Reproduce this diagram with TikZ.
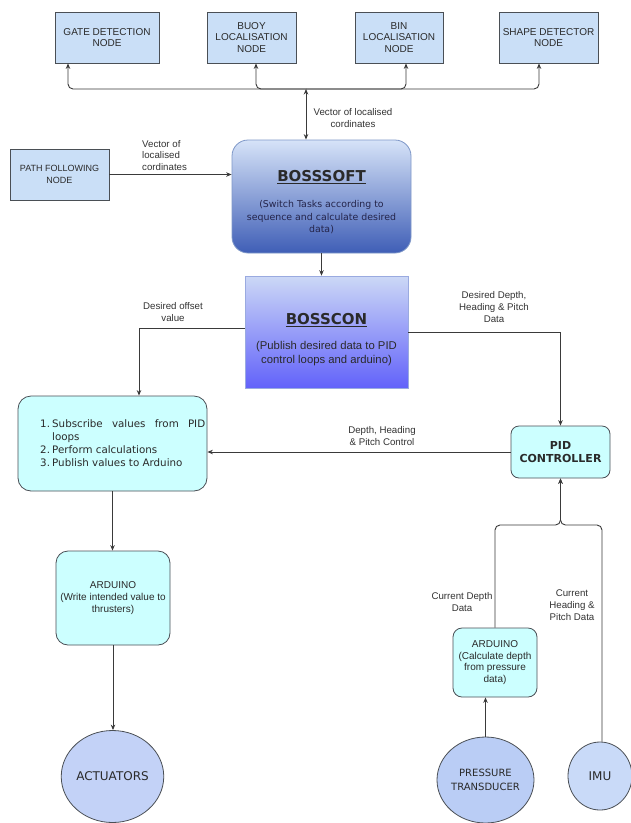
\documentclass[tikz,border=0pt]{standalone}
\usepackage{fontspec}
\setmainfont{Liberation Sans}
\newfontfamily\dvs{DejaVu Sans}
\usetikzlibrary{arrows.meta,shapes.geometric}
\definecolor{lncol}{HTML}{3A3A3A}
\definecolor{bordcol}{HTML}{4A4F55}
\definecolor{topfill}{HTML}{CADFF7}
\definecolor{cyanfill}{HTML}{CCFFFF}
\definecolor{txtcol}{HTML}{2A2A2A}
\definecolor{lblcol}{HTML}{333333}
\definecolor{softtop}{HTML}{D6E3F8}
\definecolor{softbot}{HTML}{3F5EB6}
\definecolor{softbord}{HTML}{7F98C8}
\definecolor{contop}{HTML}{CCD8F6}
\definecolor{conbot}{HTML}{6262FA}
\definecolor{conbord}{HTML}{9AAAE0}
\definecolor{actfill}{HTML}{C3D2F7}
\definecolor{presfill}{HTML}{BACDF5}
\definecolor{imufill}{HTML}{C9DAF8}
\tikzset{
  ln/.style={draw=lncol, line width=0.9pt},
  arr/.style={ln, -{Stealth[length=5.5pt,width=4.5pt]}},
  topbox/.style={draw=bordcol, line width=0.8pt, fill=topfill, inner sep=0pt,
    align=center, minimum height=51pt, text=txtcol,
    font=\fontsize{10}{11.8}\selectfont},
  cyanbox/.style={draw=bordcol, line width=0.8pt, fill=cyanfill, inner sep=0pt,
    align=center, text=txtcol},
  lbl/.style={align=center, text=lblcol, inner sep=0pt,
    font=\fontsize{9.7}{11.8}\selectfont},
  circnode/.style={ellipse, draw=bordcol, line width=0.8pt, inner sep=0pt,
    align=center, text=txtcol},
}
\begin{document}
\begin{tikzpicture}[x=1pt,y=-1pt]
\useasboundingbox[fill=white] (0,0) rectangle (631,823);

% top row
\node[topbox, minimum width=104pt] (gate) at (107,37.5) {GATE DETECTION\\NODE};
\node[topbox, minimum width=89pt] (buoy) at (251.5,37.5) {BUOY\\LOCALISATION\\NODE};
\node[topbox, minimum width=88pt] (bin) at (399,37.5) {BIN\\LOCALISATION\\NODE};
\node[topbox, minimum width=99pt] (shape) at (548.5,37.5) {SHAPE DETECTOR\\NODE};

% path following
\node[topbox, minimum width=99pt, font=\fontsize{9}{12}\selectfont] (path) at (59.5,174.5) {PATH FOLLOWING\\NODE};

% BOSSSOFT
\node[draw=softbord, line width=0.8pt, rounded corners=16pt, top color=softtop,
  bottom color=softbot, minimum width=179pt, minimum height=113pt, inner sep=0pt]
  (bosssoft) at (321.5,196.5) {};
\node[text=txtcol, inner sep=0pt, font=\dvs\bfseries\fontsize{15}{18}\selectfont]
  (softtitle) at (321.5,177) {\underline{BOSSSOFT}};
\node[text=txtcol!85!blue, inner sep=0pt, align=center,
  font=\dvs\fontsize{9.4}{12.5}\selectfont] (softsub) at (321.5,217.5)
  {(Switch Tasks according to\\sequence and calculate desired\\data)};

% BOSSCON
\node[draw=conbord, line width=0.6pt, top color=contop, bottom color=conbot,
  minimum width=163pt, minimum height=112pt, inner sep=0pt]
  (bosscon) at (326.5,332) {};
\node[text=txtcol, inner sep=0pt, font=\dvs\bfseries\fontsize{15}{18}\selectfont]
  (contitle) at (326.5,320) {\underline{BOSSCON}};
\node[text=txtcol, inner sep=0pt, align=center,
  font=\fontsize{11.3}{14}\selectfont] (consub) at (326.5,354)
  {(Publish desired data to PID\\control loops and arduino)};

% left list box
\node[cyanbox, rounded corners=13pt, minimum width=189pt, minimum height=95pt]
  (lbox) at (112.5,443.5) {};
\node[text=txtcol, inner sep=0pt, anchor=west, font=\dvs\fontsize{10.3}{13}\selectfont]
  (lboxtext) at (40,443.5) {\parbox{166pt}{%
  \makebox[12pt][l]{1.}\makebox[153pt][s]{Subscribe values from PID}\\
  \hspace*{12pt}loops\\
  \makebox[12pt][l]{2.}Perform calculations\\
  \makebox[12pt][l]{3.}Publish values to Arduino}};

% PID controller
\node[cyanbox, rounded corners=8pt, minimum width=99pt, minimum height=52pt,
  font=\dvs\bfseries\fontsize{11}{13}\selectfont] (pid) at (560.5,452) {PID\\CONTROLLER};

% Arduinos
\node[cyanbox, rounded corners=12pt, minimum width=114pt, minimum height=94pt,
  font=\fontsize{10}{12}\selectfont] (ardL) at (113,598)
  {ARDUINO\\(Write intended value to\\thrusters)};
\node[cyanbox, rounded corners=9pt, minimum width=84pt, minimum height=69pt,
  font=\fontsize{10}{11.8}\selectfont] (ardR) at (495,662.5)
  {ARDUINO\\(Calculate depth\\from pressure\\data)};

% circles
\node[circnode, fill=actfill, minimum width=91pt, minimum height=92pt,
  font=\dvs\fontsize{12}{14}\selectfont] (act) at (112.5,776.5) {ACTUATORS};
\node[circnode, fill=presfill, minimum width=85pt, minimum height=86pt,
  font=\dvs\fontsize{10}{14}\selectfont] (pres) at (485.5,780) {PRESSURE\\TRANSDUCER};
\node[circnode, fill=imufill, minimum width=64pt, minimum height=68pt,
  font=\dvs\fontsize{12}{14}\selectfont] (imu) at (600,776) {IMU};

% coordinates for buses
\coordinate (bus) at (306,89);
\coordinate (rbus) at (560.5,525);

% connectors top
\draw[ln, {Stealth[length=5.5pt,width=4.5pt]}-{Stealth[length=5.5pt,width=4.5pt]}]
  ([xshift=-15.5pt]bosssoft.north) -- (bus);
\draw[arr, rounded corners=5pt] (bus) -| ([xshift=-39pt]gate.south);
\draw[arr, rounded corners=5pt] (bus) -| ([xshift=4.5pt]buoy.south);
\draw[arr, rounded corners=5pt] (bus) -| ([xshift=7pt]bin.south);
\draw[arr, rounded corners=5pt] (bus) -| ([xshift=-9.5pt]shape.south);

\draw[arr] (path.east) -- (path.east -| bosssoft.west);
\draw[arr] (bosssoft.south) -- (bosssoft.south |- bosscon.north);

\draw[arr] ([yshift=4pt]bosscon.west) -| ([xshift=26.5pt]lbox.north);
\draw[arr] (bosscon.east) -| (pid.north);
\draw[arr] (pid.west) -- (pid.west -| lbox.east);
\draw[arr] (lbox.south) -- (lbox.south |- ardL.north);
\draw[arr] (ardL.south) -- (ardL.south |- act.north);
\draw[arr] (pres.north) -- (pres.north |- ardR.south);
\draw[arr, rounded corners=5pt] (ardR.north) |- (rbus) -- (pid.south);
\draw[arr, rounded corners=5pt] ([xshift=2pt]imu.north) |- (rbus) -- (pid.south);

% labels
\node[lbl] (l1) at (353,118) {Vector of localised\\cordinates};
\node[lbl, align=left, anchor=west] (l2) at (142,155.5) {Vector of\\localised\\cordinates};
\node[lbl] (l3) at (173,312) {Desired offset\\value};
\node[lbl] (l4) at (494,307) {Desired Depth,\\Heading \& Pitch\\Data};
\node[lbl] (l5) at (382,436) {Depth, Heading\\\& Pitch Control};
\node[lbl] (l6) at (462,602) {Current Depth\\Data};
\node[lbl] (l7) at (572,605) {Current\\Heading \&\\Pitch Data};
\end{tikzpicture}
\end{document}
